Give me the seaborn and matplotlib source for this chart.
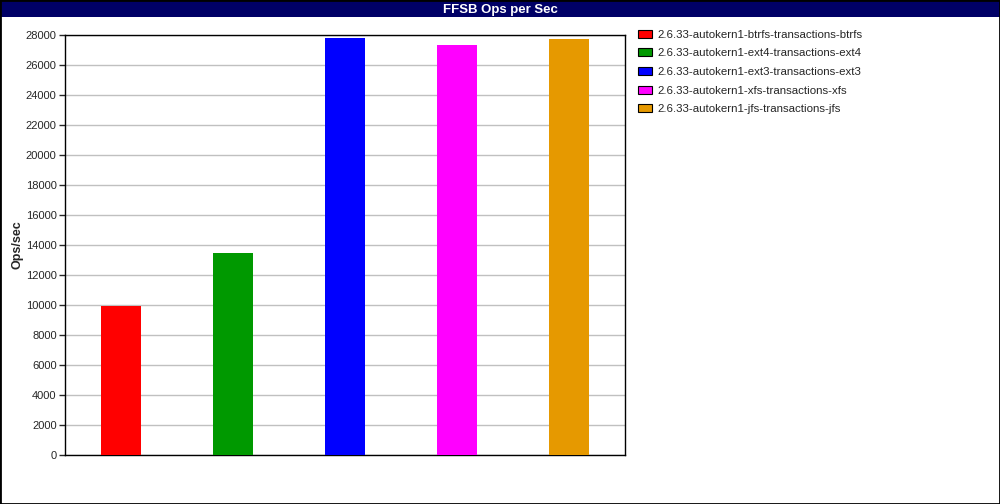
import matplotlib
matplotlib.use("Agg")
import matplotlib.pyplot as plt
from matplotlib.patches import Patch, Rectangle
import seaborn as sns

# chart data
CONFIGS = [
    "2.6.33-autokern1-btrfs-transactions-btrfs",
    "2.6.33-autokern1-ext4-transactions-ext4",
    "2.6.33-autokern1-ext3-transactions-ext3",
    "2.6.33-autokern1-xfs-transactions-xfs",
    "2.6.33-autokern1-jfs-transactions-jfs",
]
OPS = [9950, 13470, 27830, 27350, 27700]
COLORS = ["#ff0000", "#009900", "#0000ff", "#ff00ff", "#e69900"]
YTICKS = list(range(0, 28001, 2000))

sns.set_style("white")
plt.rcParams["font.family"] = ["Liberation Sans", "DejaVu Sans"]

fig = plt.figure(figsize=(10, 5.04), dpi=100)
ax = fig.add_axes([0.065, 49 / 504, 0.56, 420 / 504])

sns.barplot(x=CONFIGS, y=OPS, hue=CONFIGS, palette=COLORS, width=0.357,
            saturation=1, legend=False, linewidth=0, ax=ax, zorder=3)

ax.set_xlim(-0.5, 4.5)
ax.set_ylim(0, 28000)
ax.set_yticks(YTICKS)
ax.set_yticklabels([str(t) for t in YTICKS], fontsize=8)
ax.set_xticks([])
ax.set_xlabel("")
ax.set_ylabel("Ops/sec", fontsize=9, fontweight="bold")
ax.yaxis.set_label_coords(-42 / 560, 0.5)
ax.yaxis.grid(True, color="#c0c0c0", linewidth=1, zorder=0)
ax.tick_params(axis="y", direction="out", length=4, width=1, left=True, pad=2)
for s in ax.spines.values():
    s.set_color("black")
    s.set_linewidth(1)

# title bar
fig.patches.append(Rectangle((0, 1 - 17 / 504), 1, 17 / 504, transform=fig.transFigure,
                             facecolor="#000066", edgecolor="none", zorder=0))
fig.text(0.5, 1 - 9.5 / 504, "FFSB Ops per Sec", color="white", fontsize=9.5,
         fontweight="bold", ha="center", va="center")

# figure border
fig.patches.append(Rectangle((0, 0), 1, 1, transform=fig.transFigure, fill=False,
                             edgecolor="black", linewidth=2, zorder=5))

handles = [Patch(facecolor=c, edgecolor="black", linewidth=0.8) for c in COLORS]
fig.legend(handles, CONFIGS, loc="upper left", bbox_to_anchor=(0.633, 0.95),
           frameon=False, fontsize=8.25, handlelength=1.3, handleheight=0.7,
           handletextpad=0.4, labelspacing=0.75, borderaxespad=0)

fig.savefig("out.png", dpi=100)
